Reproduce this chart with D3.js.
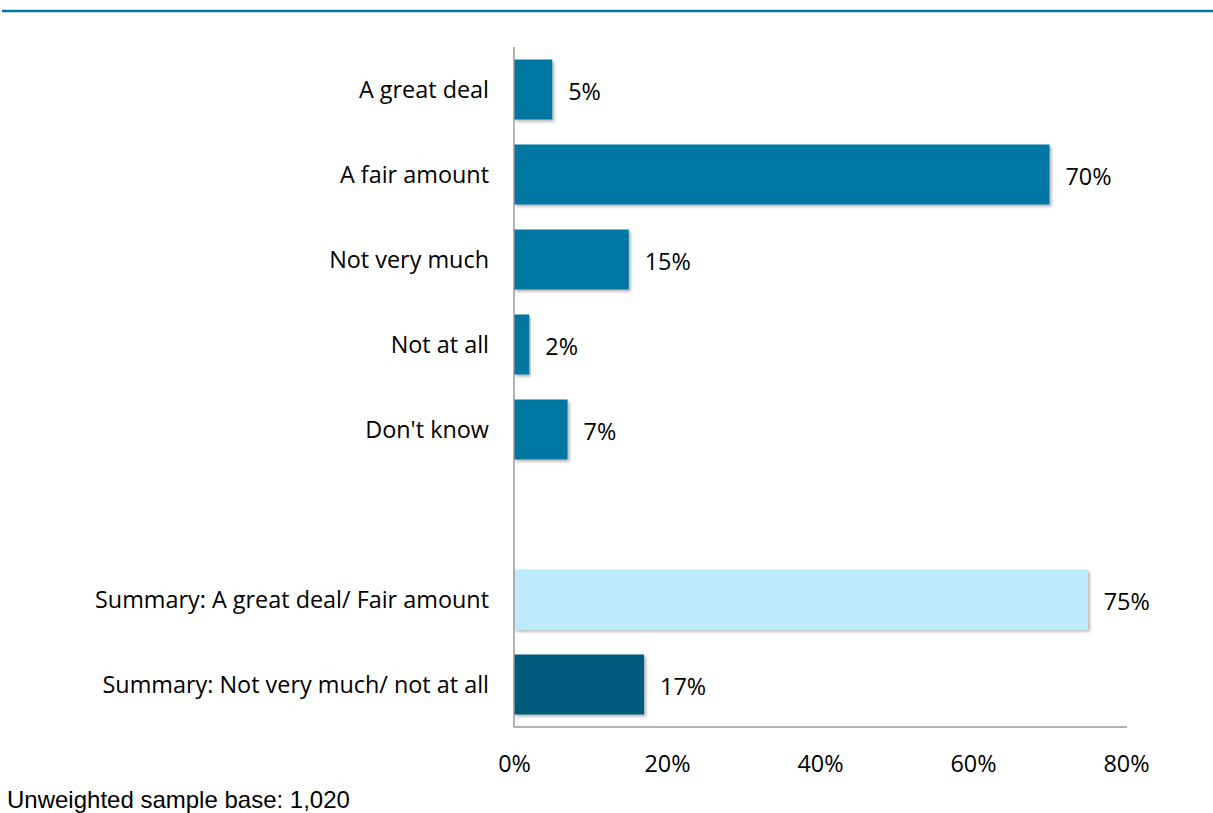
<!DOCTYPE html>
<html>
<head>
<meta charset="utf-8">
<script src="https://cdn.jsdelivr.net/npm/d3@7"></script>
<style>
  html, body { margin: 0; padding: 0; background: #fff; }
  svg { display: block; }
  .lbl { font-family: "Open Sans", Lato, sans-serif; font-size: 23.4px; fill: #000; }
  .foot { font-family: "Liberation Sans", Arial, sans-serif; font-size: 24px; fill: #000; }
</style>
</head>
<body>
<svg id="chart" width="1213" height="813"></svg>
<script>
// Survey responses (share of respondents)
const categories = [
  "A great deal",
  "A fair amount",
  "Not very much",
  "Not at all",
  "Don't know",
  "",
  "Summary: A great deal/ Fair amount",
  "Summary: Not very much/ not at all"
];
const values = [5, 70, 15, 2, 7, null, 75, 17];
const barColors = ["#0076A3", "#0076A3", "#0076A3", "#0076A3", "#0076A3", null, "#BDEBFD", "#005A7C"];
const tickValues = [0, 20, 40, 60, 80];
const footnote = "Unweighted sample base: 1,020";

const svg = d3.select("#chart");
const plotLeft = 514, plotRight = 1126, plotTop = 47, plotBottom = 727;

const x = d3.scaleLinear().domain([0, 80]).range([plotLeft, plotRight]);
const y = d3.scaleBand().domain(d3.range(categories.length)).range([plotTop, plotBottom]).paddingInner(0.294).paddingOuter(0.147);

// soft drop shadow under bars
const defs = svg.append("defs");
const f = defs.append("filter").attr("id", "shadow").attr("x", "-5%").attr("y", "-10%").attr("width", "115%").attr("height", "130%");
f.append("feDropShadow").attr("dx", 2).attr("dy", 2).attr("stdDeviation", 1.5).attr("flood-color", "#000").attr("flood-opacity", 0.3);

// header rule
svg.append("line").attr("x1", 2).attr("x2", 1213).attr("y1", 11).attr("y2", 11)
  .attr("stroke", "#0077A6").attr("stroke-width", 2.5);

const data = categories.map((c, i) => ({ c, v: values[i], col: barColors[i], i }));

svg.append("g").selectAll("rect").data(data.filter(d => d.v !== null)).join("rect")
  .attr("x", x(0))
  .attr("y", d => y(d.i))
  .attr("width", d => x(d.v) - x(0))
  .attr("height", y.bandwidth())
  .attr("fill", d => d.col)
  .attr("filter", "url(#shadow)");

// value labels
svg.append("g").selectAll("text").data(data.filter(d => d.v !== null)).join("text")
  .attr("class", "lbl")
  .attr("x", d => x(d.v) + 16)
  .attr("y", d => y(d.i) + y.bandwidth() / 2 + 2)
  .attr("dy", "0.35em")
  .text(d => d.v + "%");

// axes
const yAxis = d3.axisLeft(y).tickSize(0).tickPadding(25).tickFormat(i => categories[i]);
const gy = svg.append("g").attr("transform", `translate(${plotLeft},1)`).call(yAxis);
gy.select(".domain").remove();
gy.selectAll("text").attr("class", "lbl");

const xAxis = d3.axisBottom(x).tickValues(tickValues).tickSize(0).tickPadding(28).tickFormat(d => d + "%");
const gx = svg.append("g").attr("transform", `translate(0,${plotBottom})`).call(xAxis);
gx.select(".domain").remove();
gx.selectAll("text").attr("class", "lbl");
gy.attr("font-family", null).attr("font-size", null);
gx.attr("font-family", null).attr("font-size", null);

svg.append("line").attr("x1", plotLeft).attr("x2", plotLeft).attr("y1", plotTop).attr("y2", plotBottom)
  .attr("stroke", "#999").attr("stroke-width", 1.5);
svg.append("line").attr("x1", plotLeft).attr("x2", plotRight + 1).attr("y1", plotBottom).attr("y2", plotBottom)
  .attr("stroke", "#999").attr("stroke-width", 1.5);

svg.append("text").attr("class", "foot").attr("x", 7).attr("y", 808).text(footnote);
</script>
</body>
</html>
